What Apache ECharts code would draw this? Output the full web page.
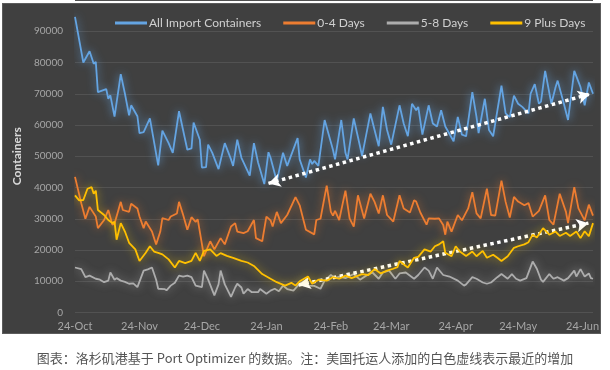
<!DOCTYPE html>
<html><head><meta charset="utf-8">
<script src="https://cdn.jsdelivr.net/npm/echarts@6/dist/echarts.min.js"></script>
<style>
html,body{margin:0;padding:0;background:#fff;}
#bg{position:absolute;left:2px;top:3px;width:597px;height:329px;background:#404040;border:1px solid #5c5c5c;}
#c{position:absolute;left:0;top:0;width:610px;height:370px;}
</style>
</head><body><div id="bg"></div><div id="c"></div>
<script>
// x values are days since 24-Oct
const tickDays = [0, 31, 61, 92, 123, 152, 183, 213, 244];
const tickLabels = ['24-Oct', '24-Nov', '24-Dec', '24-Jan', '24-Feb', '24-Mar', '24-Apr', '24-May', '24-Jun'];
const seriesNames = ['All Import Containers', '0-4 Days', '5-8 Days', '9 Plus Days'];
const caption = '图表：洛杉矶港基于 Port Optimizer 的数据。注：美国托运人添加的白色虚线表示最近的增加';

const allImport = [[0,94600],[4,80000],[7,83600],[9,79600],[10,80200],[11,70500],[15,71500],[16,68400],[17,69500],[19,62700],[22,76300],[24,70000],[26,63100],[27,66300],[30,62800],[31,57400],[33,57700],[36,62100],[40,47100],[42,58200],[45,54200],[47,51100],[50,64400],[54,52100],[56,52500],[57,60800],[60,55300],[61,46400],[63,46500],[64,53700],[66,51100],[69,45900],[72,54200],[75,49000],[76,46900],[78,55300],[80,49500],[84,43800],[86,54200],[88,48000],[91,41100],[93,51300],[94,49500],[97,42000],[100,51100],[102,46900],[107,55800],[108,49000],[111,43200],[113,49000],[114,47500],[115,48500],[117,46900],[120,61600],[124,52100],[125,49000],[128,61600],[130,51100],[131,49000],[134,62100],[137,53200],[138,50100],[142,63700],[144,58400],[146,53200],[148,65800],[150,58400],[152,53700],[156,66300],[158,60500],[160,56400],[162,66800],[164,64700],[165,65800],[167,56900],[170,66300],[172,60500],[174,59500],[176,64700],[178,59500],[182,54800],[184,62600],[186,56900],[188,56400],[191,70500],[193,62600],[194,57400],[197,68400],[199,58400],[201,56400],[205,72600],[207,63700],[209,62500],[211,69400],[213,66800],[215,65800],[218,63700],[219,70000],[221,73100],[223,66800],[224,67500],[226,77300],[229,66800],[231,72100],[232,74200],[235,66800],[237,61600],[240,77300],[243,72100],[245,66300],[247,73600],[249,70000]];

const days0to4 = [[0,43400],[3,35000],[5,30000],[7,33800],[10,30700],[11,27000],[14,29600],[16,32800],[18,28100],[19,28500],[22,35400],[23,32800],[26,32200],[27,34800],[30,33300],[31,30700],[33,27000],[34,29100],[37,25900],[39,21800],[41,25900],[42,30200],[45,29600],[46,30700],[49,31700],[50,35400],[52,31200],[54,26500],[56,30500],[58,29000],[59,29800],[62,18000],[65,22800],[67,20200],[70,23800],[72,21800],[75,27500],[77,28600],[78,25900],[81,25400],[83,26000],[86,29600],[87,23800],[90,22800],[92,30700],[94,29500],[95,27500],[97,32200],[99,28600],[102,31200],[106,36900],[108,34300],[110,29100],[111,26500],[115,25000],[116,29600],[118,30000],[121,40600],[123,32200],[124,31000],[125,32500],[127,29600],[130,39000],[132,30100],[134,27500],[136,37500],[139,30100],[142,38000],[144,35400],[146,31700],[148,37500],[150,31200],[153,29100],[156,37500],[158,33300],[161,32000],[163,35900],[164,35500],[166,32000],[169,28100],[170,30100],[173,30000],[175,30100],[177,28000],[178,24900],[179,29100],[181,25900],[184,31200],[186,29500],[189,33300],[191,38500],[193,31700],[195,30100],[198,39600],[200,31200],[202,31000],[205,42200],[207,35400],[209,30400],[211,37000],[213,35500],[216,34300],[218,35000],[220,30700],[223,32500],[226,37500],[228,29600],[230,28100],[233,38000],[236,32200],[237,28600],[240,40100],[242,33300],[245,29500],[247,34500],[249,31000]];

const days5to8 = [[0,14400],[3,13900],[5,11300],[7,11800],[10,10800],[12,10500],[14,9700],[16,10200],[17,12800],[19,10500],[20,11000],[22,10200],[24,9800],[26,9200],[28,9300],[30,8100],[33,13400],[35,13800],[37,14400],[39,10500],[40,7600],[43,7500],[44,7100],[46,8600],[48,9500],[50,11800],[52,11500],[54,11800],[56,11300],[58,8600],[61,8100],[62,13400],[64,10500],[67,5500],[69,9000],[70,13400],[72,9000],[75,5000],[77,8000],[78,9200],[80,8000],[81,6000],[83,7500],[85,6500],[88,6500],[89,7500],[92,6000],[94,7000],[96,7600],[98,6800],[100,8600],[102,7500],[105,7000],[108,9200],[110,10000],[112,8600],[115,8500],[118,7600],[120,10200],[123,12000],[125,11000],[127,11500],[130,11000],[134,12300],[137,10500],[140,11800],[143,12800],[146,10800],[148,12800],[151,13400],[154,10800],[156,12500],[159,12800],[163,10800],[165,12000],[168,14400],[170,13400],[172,10800],[174,14400],[177,12000],[180,11500],[184,10200],[187,8600],[188,9000],[191,11300],[193,10800],[196,9600],[198,9200],[200,9600],[203,11300],[205,12300],[208,10800],[210,12300],[212,10800],[214,10200],[217,11000],[220,16300],[222,14000],[224,10500],[225,9800],[228,12300],[230,10800],[232,11300],[235,10200],[237,11000],[240,13400],[241,11500],[243,13900],[245,11500],[247,12500],[248,11000],[249,10800]];

const days9plus = [[0,37500],[2,35900],[4,36000],[6,39600],[8,40100],[9,38000],[10,39000],[11,32800],[14,31200],[16,29600],[18,28600],[19,29000],[20,23300],[22,28600],[24,25900],[26,22300],[29,20200],[31,16500],[34,19100],[36,21200],[38,19500],[40,19100],[42,18600],[45,17000],[48,14400],[50,16500],[53,15800],[56,16500],[58,19100],[60,16500],[62,19700],[65,20200],[68,18100],[70,19000],[73,18100],[76,17500],[80,16500],[83,16000],[86,14900],[90,12300],[94,10800],[97,9700],[101,8600],[104,9500],[106,8600],[108,10000],[112,11500],[114,9200],[117,10500],[121,10200],[124,11300],[127,10800],[130,11800],[133,11000],[138,12300],[141,12000],[144,13900],[147,12500],[150,13400],[153,14000],[155,14500],[156,16500],[159,14900],[160,14400],[163,17500],[165,17800],[168,20200],[171,19500],[173,21200],[175,21800],[177,22800],[178,19100],[181,18000],[183,21200],[185,19500],[188,18100],[191,19500],[193,18000],[196,19700],[198,17500],[201,18500],[203,17500],[205,16500],[208,18000],[211,20700],[213,21200],[216,21800],[218,22500],[220,24900],[222,24000],[225,27000],[228,24900],[231,25900],[233,24500],[236,25500],[238,24500],[241,25900],[243,23800],[245,26000],[247,24400],[249,28600]];

// white dotted trend arrows added by the shipper
const trendAll = [[93, 41300], [247.5, 69900]];
const trend9Plus = [[107.5, 8800], [246.8, 28600]];

const colors = ['#64a4e2', '#ed7d31', '#adadad', '#ffc000'];
const glow = ['rgba(100,164,226,0.85)', 'rgba(237,125,49,0.7)', 'rgba(190,190,190,0.6)', 'rgba(255,210,0,0.7)'];
const datasets = [allImport, days0to4, days5to8, days9plus];

function arrow(tr) {
  return {
    silent: true,
    symbol: ['arrow', 'arrow'],
    symbolSize: [10, 12],
    lineStyle: { color: '#ffffff', width: 3.5, type: [3.5, 3.5], shadowBlur: 0, opacity: 1 },
    itemStyle: { color: '#ffffff' },
    label: { show: false },
    emphasis: { disabled: true },
    data: [[{ coord: tr[0] }, { coord: tr[1] }]]
  };
}

const series = seriesNames.map((n, i) => ({
  name: n,
  type: 'line',
  data: datasets[i],
  showSymbol: false,
  symbol: 'none',
  color: colors[i],
  lineStyle: { width: 1.8, color: colors[i], shadowBlur: 8, shadowColor: glow[i] },
  emphasis: { disabled: true },
  z: 2 + i
}));
series[0].markLine = arrow(trendAll);
series[3].markLine = arrow(trend9Plus);

const chart = echarts.init(document.getElementById('c'));
chart.setOption({
  animation: false,
  backgroundColor: 'transparent',
  textStyle: { fontFamily: 'Lato' },
  title: {
    text: caption, left: 'center', top: 347,
    textStyle: { fontSize: 13, fontWeight: 'normal', color: '#555555', fontFamily: 'Noto Sans CJK SC' }
  },
  legend: {
    left: 110, top: 12, right: 0, icon: 'rect', itemWidth: 32, itemHeight: 3, itemGap: 22,
    textStyle: { color: '#d0d0d0', fontSize: 12, fontFamily: 'Lato', padding: [0, 0, 0, -3] },
    data: seriesNames
  },
  grid: { left: 75, right: 17, top: -5.5, bottom: 57.5 },
  xAxis: {
    type: 'value', min: 0, max: 249,
    axisLine: { show: false }, axisTick: { show: false }, splitLine: { show: false },
    axisLabel: {
      customValues: tickDays,
      formatter: v => tickLabels[tickDays.indexOf(v)],
      color: '#a6a6a6', fontSize: 11, margin: 8
    }
  },
  yAxis: {
    type: 'value', min: 0, max: 100000, interval: 10000,
    name: 'Containers', nameLocation: 'middle', nameGap: 50,
    nameTextStyle: { color: '#d9d9d9', fontWeight: 'bold', fontSize: 12 },
    axisLine: { show: false }, axisTick: { show: false },
    axisLabel: { color: '#a6a6a6', fontSize: 10, margin: 12, showMaxLabel: false, formatter: v => String(v) },
    splitLine: { lineStyle: { color: '#525252', width: 1 } }
  },
  series: series
});
</script>
</body></html>
